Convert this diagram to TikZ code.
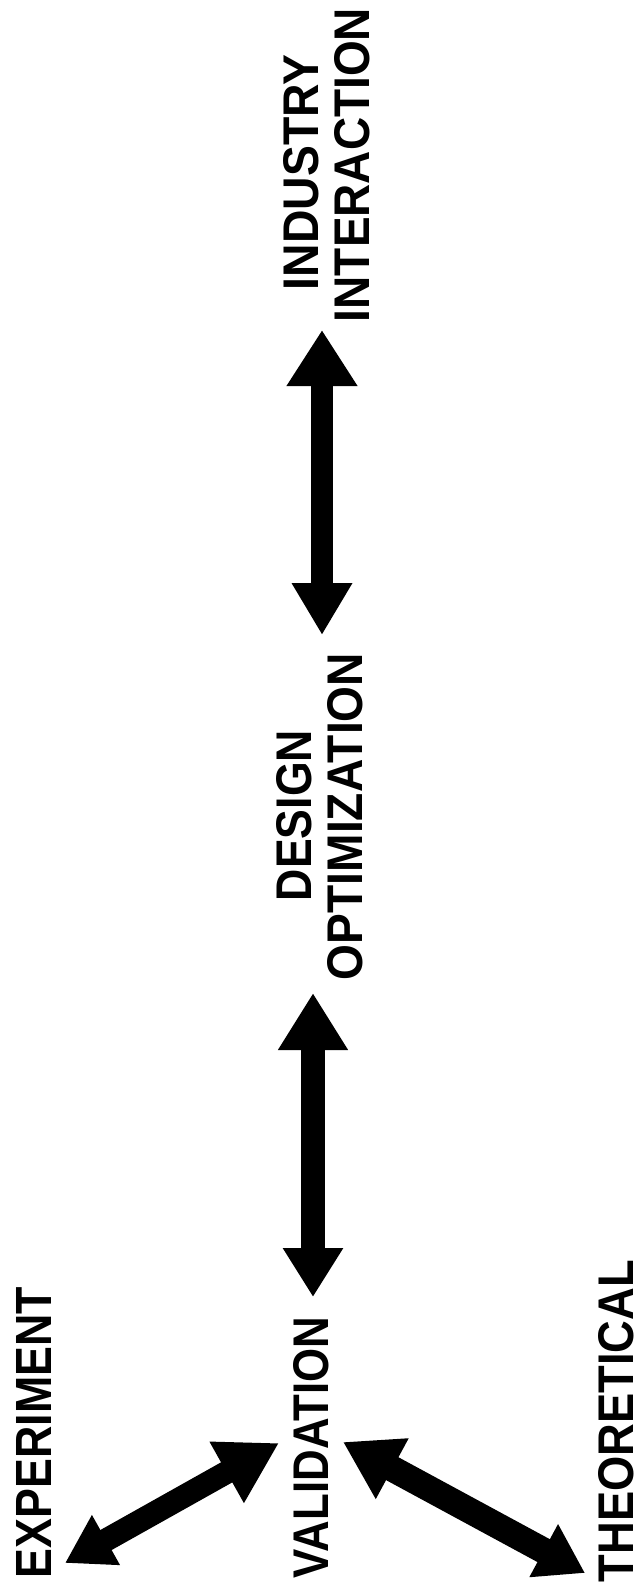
\documentclass[tikz,border=0pt]{standalone}
\usepackage{fontspec}
\usepackage{graphicx}
\setmainfont{Liberation Sans}
\usetikzlibrary{arrows.meta}

% a rotated label: target length along the text, fixed cap height
\newcommand\capword[2]{\resizebox{#1}{35pt}{\bfseries #2}}

\tikzset{
  word/.style={inner sep=0pt, outer sep=0pt, rotate=90, anchor=base west},
  dblarrow/.style n args={5}{draw=black, line width=#1,
    arrows={Triangle[length=#2,width=#3]-Triangle[length=#4,width=#5]}}
}

\begin{document}
\begin{tikzpicture}[x=1pt, y=-1pt]
\useasboundingbox[fill=white] (0,0) rectangle (641,1591);

% labels (reading upwards)
\node[word] (industry)    at (318,290)  {\capword{235pt}{INDUSTRY}};
\node[word] (interaction) at (369,322)  {\capword{314pt}{INTERACTION}};
\node[word] (design)      at (311,901)  {\capword{171pt}{DESIGN}};
\node[word] (optim)       at (362,980)  {\capword{327pt}{OPTIMIZATION}};
\node[word] (valid)       at (328,1578) {\capword{261pt}{VALIDATION}};
\node[word] (experiment)  at (51,1578)  {\capword{291pt}{EXPERIMENT}};
\node[word] (theory)      at (633,1582) {\capword{322pt}{THEORETICAL}};

% arrow tips
\coordinate (upA) at (322,635);
\coordinate (upB) at (322,330);
\coordinate (loA) at (313,1297);
\coordinate (loB) at (313,993);
\coordinate (exA) at (65,1563);
\coordinate (exB) at (279,1443);
\coordinate (thA) at (585,1573);
\coordinate (thB) at (343,1442);

% double-headed connectors
\draw[dblarrow={22pt}{52pt}{57pt}{56pt}{67pt}] (upA) -- (upB);
\draw[dblarrow={24pt}{49pt}{57pt}{57pt}{66pt}] (loA) -- (loB);
\draw[dblarrow={23pt}{47pt}{54pt}{60pt}{66pt}] (exA) -- (exB);
\draw[dblarrow={26pt}{47pt}{57pt}{56pt}{65pt}] (thA) -- (thB);
\end{tikzpicture}
\end{document}
